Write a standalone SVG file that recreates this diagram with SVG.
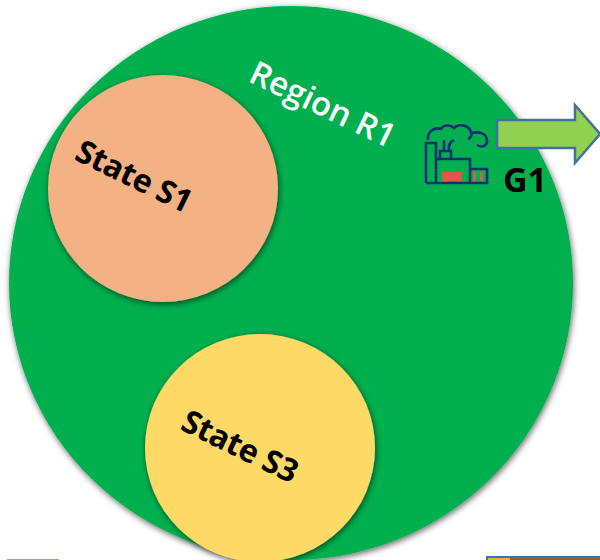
<svg xmlns="http://www.w3.org/2000/svg" width="600" height="560" viewBox="0 0 600 560">
<style>
.lbl{font-family:"Open Sans","Liberation Sans",sans-serif;font-weight:700;font-size:32px;letter-spacing:-.4px;fill:#000}
.ic{fill:none;stroke:#14306e;stroke-width:2.600}
.red{fill:#e2574c}
</style>
<defs>
<filter id="sh" x="-5%" y="-5%" width="110%" height="110%"><feDropShadow dx="1" dy="2" stdDeviation="3" flood-color="#000" flood-opacity=".6"/></filter>
</defs>
<rect width="600" height="560" fill="#fff"/>
<g id="region-r1">
<ellipse cx="291" cy="283" rx="282" ry="277" fill="#00b050" filter="url(#sh)"/>
<text transform="translate(247 81) rotate(25.500)" font-family="Open Sans,Liberation Sans,sans-serif" font-weight="600" font-size="33" fill="#fff">Region R1</text>
</g>
<g id="state-s1">
<ellipse cx="163" cy="188.500" rx="115" ry="113.500" fill="#f4b183" filter="url(#sh)"/>
<text class="lbl" transform="translate(73 159) rotate(26)">State S1</text>
</g>
<g id="state-s3">
<ellipse cx="260" cy="448" rx="115" ry="114" fill="#ffd966" filter="url(#sh)"/>
<text class="lbl" transform="translate(179 429) rotate(26)">State S3</text>
</g>
<g id="generator-g1">
<path class="ic" d="M426 183V143H436V183M426 183H487V169H470V159H436M470 169V183"/>
<path class="ic" d="M440 159V151H451V159M444 151V140M449 151C448 145 450 142 454 140"/>
<path class="ic" d="M428 140C427 131 435 127 441 129C444 124 451 125 454 128C459 123 470 125 471 133C472 135 471 138 468 139M472 133C480 131 487 134 487 141C487 146 482 148 477 145"/>
<rect class="red" x="442" y="172" width="20" height="9"/>
<rect class="red" x="473" y="172" width="3" height="9"/>
<rect class="red" x="480" y="172" width="3" height="9"/>
<text x="503" y="192" font-family="Open Sans,Liberation Sans,sans-serif" font-weight="700" font-size="34" fill="#000">G1</text>
</g>
<g id="connectors">
<path d="M497 120H575V105L600 134L575 163V148H497Z" fill="#92d050" stroke="#41719c" stroke-width="2.500"/>
</g>
<rect x="7" y="559" width="52" height="1" fill="#8fa5bd"/>
<rect x="486" y="556" width="114" height="4" fill="#3f72af"/>
<rect x="488" y="558" width="22" height="2" fill="#e6b43a"/>
<rect x="510" y="558" width="90" height="2" fill="#7a6a3a"/>
</svg>
